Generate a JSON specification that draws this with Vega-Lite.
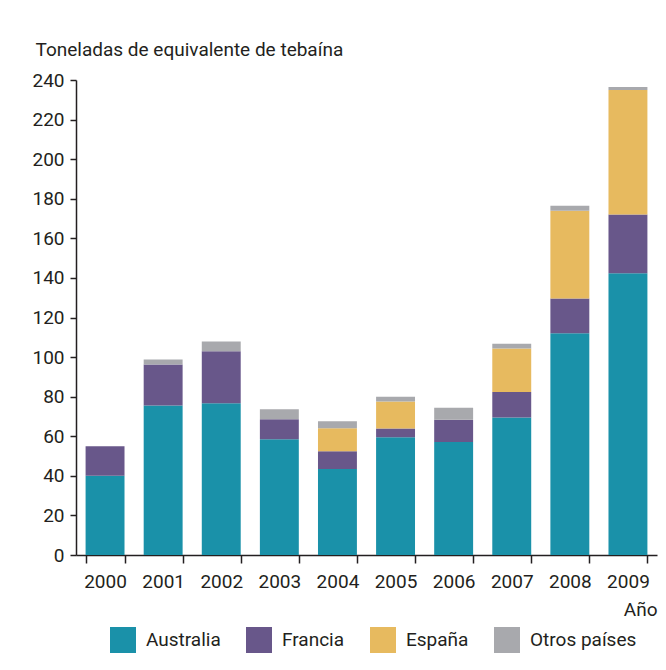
{
  "$schema": "https://vega.github.io/schema/vega-lite/v6.json",
  "width": 581,
  "height": 475,
  "autosize": "none",
  "padding": {"left": 76, "top": 80, "right": 9, "bottom": 115},
  "background": "white",
  "config": {
    "font": "Roboto",
    "view": {"stroke": null},
    "axis": {"labelFont": "Roboto", "titleFont": "Roboto", "labelColor": "#231F20", "titleColor": "#231F20", "grid": false, "domainColor": "#231F20", "tickColor": "#231F20", "domainWidth": 1.5, "tickWidth": 1.5},
    "legend": {"labelFont": "Roboto", "labelColor": "#231F20"}
  },
  "data": {
    "values": [
      {"anio": "2000", "pais": "Australia", "orden": 1, "valor": 40},
      {"anio": "2000", "pais": "Francia", "orden": 2, "valor": 15},
      {"anio": "2001", "pais": "Australia", "orden": 1, "valor": 75.6},
      {"anio": "2001", "pais": "Francia", "orden": 2, "valor": 20.7},
      {"anio": "2001", "pais": "Otros países", "orden": 4, "valor": 2.5},
      {"anio": "2002", "pais": "Australia", "orden": 1, "valor": 76.7},
      {"anio": "2002", "pais": "Francia", "orden": 2, "valor": 26.2},
      {"anio": "2002", "pais": "Otros países", "orden": 4, "valor": 5},
      {"anio": "2003", "pais": "Australia", "orden": 1, "valor": 58.5},
      {"anio": "2003", "pais": "Francia", "orden": 2, "valor": 10.1},
      {"anio": "2003", "pais": "Otros países", "orden": 4, "valor": 5},
      {"anio": "2004", "pais": "Australia", "orden": 1, "valor": 43.4},
      {"anio": "2004", "pais": "Francia", "orden": 2, "valor": 9},
      {"anio": "2004", "pais": "España", "orden": 3, "valor": 11.6},
      {"anio": "2004", "pais": "Otros países", "orden": 4, "valor": 3.6},
      {"anio": "2005", "pais": "Australia", "orden": 1, "valor": 59.5},
      {"anio": "2005", "pais": "Francia", "orden": 2, "valor": 4.4},
      {"anio": "2005", "pais": "España", "orden": 3, "valor": 13.7},
      {"anio": "2005", "pais": "Otros países", "orden": 4, "valor": 2.4},
      {"anio": "2006", "pais": "Australia", "orden": 1, "valor": 57.1},
      {"anio": "2006", "pais": "Francia", "orden": 2, "valor": 11.3},
      {"anio": "2006", "pais": "Otros países", "orden": 4, "valor": 6},
      {"anio": "2007", "pais": "Australia", "orden": 1, "valor": 69.5},
      {"anio": "2007", "pais": "Francia", "orden": 2, "valor": 12.9},
      {"anio": "2007", "pais": "España", "orden": 3, "valor": 21.9},
      {"anio": "2007", "pais": "Otros países", "orden": 4, "valor": 2.5},
      {"anio": "2008", "pais": "Australia", "orden": 1, "valor": 112},
      {"anio": "2008", "pais": "Francia", "orden": 2, "valor": 17.6},
      {"anio": "2008", "pais": "España", "orden": 3, "valor": 44.4},
      {"anio": "2008", "pais": "Otros países", "orden": 4, "valor": 2.5},
      {"anio": "2009", "pais": "Australia", "orden": 1, "valor": 142.3},
      {"anio": "2009", "pais": "Francia", "orden": 2, "valor": 29.7},
      {"anio": "2009", "pais": "España", "orden": 3, "valor": 63},
      {"anio": "2009", "pais": "Otros países", "orden": 4, "valor": 1.5}
    ]
  },
  "mark": {"type": "bar"},
  "encoding": {
    "x": {
      "field": "anio", "type": "ordinal",
      "scale": {"paddingInner": 0.33, "paddingOuter": 0.165},
      "axis": {
        "title": "Año", "labelAngle": 0, "labelFontSize": 19, "titleFontSize": 19, "titleFontWeight": "normal",
        "tickBand": "extent", "tickSize": 8, "labelPadding": 9,
        "titleAnchor": "end", "titleAlign": "right", "titleBaseline": "alphabetic", "titleX": 581, "titleY": 60
      }
    },
    "y": {
      "field": "valor", "type": "quantitative", "stack": "zero",
      "scale": {"domain": [0, 240], "nice": false},
      "axis": {
        "values": [0, 20, 40, 60, 80, 100, 120, 140, 160, 180, 200, 220, 240],
        "title": "Toneladas de equivalente de tebaína",
        "labelFontSize": 19, "titleFontSize": 19, "titleFontWeight": "normal",
        "tickSize": 6, "labelPadding": 6,
        "titleAngle": 0, "titleAlign": "left", "titleBaseline": "alphabetic", "titleX": -41, "titleY": -25
      }
    },
    "color": {
      "field": "pais", "type": "nominal",
      "scale": {"domain": ["Australia", "Francia", "España", "Otros países"], "range": ["#1A91A9", "#68578A", "#E7BA5F", "#A8A9AD"]},
      "legend": {
        "title": null, "orient": "none", "direction": "horizontal", "legendX": 34, "legendY": 547,
        "symbolType": "square", "symbolSize": 676, "symbolStrokeWidth": 0, "symbolOpacity": 1,
        "labelFontSize": 19, "labelOffset": 10, "columnPadding": 25
      }
    },
    "order": {"field": "orden", "type": "quantitative"}
  }
}
